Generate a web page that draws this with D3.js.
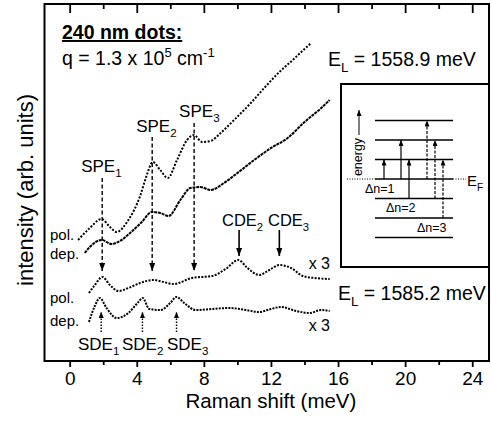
<!DOCTYPE html>
<html>
<head>
<meta charset="utf-8">
<script src="https://cdn.jsdelivr.net/npm/d3@7/dist/d3.min.js"></script>
<style>
    body { margin: 0; background: #fff; }
    svg { font-family: "Liberation Sans", Arial, sans-serif; }
</style>
</head>
<body>
<div id="chart"></div>
<script>
// Spectra: [Raman shift (meV), intensity (arb. units)]
const polHigh = [[0.5, 121], [1.2, 133], [1.9, 142], [2.4, 134], [2.8, 129], [3.5, 141], [4.2, 165],
    [4.6, 186], [4.95, 199], [5.4, 191], [5.85, 183], [6.4, 201], [7.0, 221], [7.4, 226], [7.9, 219],
    [8.4, 220], [9.0, 228], [9.8, 241], [10.8, 258], [11.6, 273], [12.5, 289], [13.3, 301], [14.0, 312],
    [14.4, 318]];
const depHigh = [[0.9, 108], [1.2, 114], [1.9, 121], [2.5, 117], [3.0, 120], [3.6, 128], [4.3, 139],
    [4.9, 149], [5.4, 148], [5.9, 145], [6.6, 161], [7.2, 173], [7.8, 174], [8.4, 171], [9.2, 178],
    [10.0, 188], [11.0, 201], [12.0, 213], [13.0, 223], [14.0, 239], [15.0, 253], [15.5, 261]];
const polLow = [[1.15, 68], [1.5, 76], [1.95, 84], [2.4, 76], [2.9, 70], [3.5, 73], [4.2, 78], [5.0, 81],
    [5.6, 79], [6.2, 77], [7.3, 83], [8.5, 85], [9.3, 92], [10.05, 101], [10.6, 93], [11.3, 86],
    [11.9, 91], [12.5, 96], [13.2, 93], [13.9, 85], [14.6, 83], [15.5, 82]];
const depLow = [[1.15, 39], [1.5, 55], [1.8, 63], [2.2, 53], [2.8, 43], [3.5, 48], [4.1, 59], [4.35, 63],
    [4.75, 52], [5.4, 51], [6.0, 58], [6.35, 64], [6.9, 57], [7.5, 51], [8.5, 52], [9.5, 53], [10.5, 51],
    [11.3, 49], [12.0, 52], [12.6, 54], [13.5, 50], [14.3, 48], [15.0, 51], [15.5, 50]];

// Peak positions (meV)
const spePeaks = [1.94, 4.92, 7.42];
const cdePeaks = [10.1, 12.5];
const sdePeaks = [1.88, 4.34, 6.37];

// Axis ticks
const majorTicks = [0, 4, 8, 12, 16, 20, 24];
const minorTicks = [2, 6, 10, 14, 18, 22];

// Inset: level index of each transition [from, to]
const levels = [-3, -2, -1, 0, 1, 2, 3];
const transitions = [[0, 1], [0, 2], [-1, 1], [0, 3], [-1, 2], [-2, 1]];

const config = {
    width: 491,
    height: 426,
    left: 44.5,
    right: 489,
    top: 4,
    bottom: 361
};

const svg = d3.select('#chart')
    .append('svg')
    .attr('width', config.width)
    .attr('height', config.height);

const xScale = d3.scaleLinear()
    .domain([-1.5, 25])
    .range([config.left, config.right]);

const yScale = d3.scaleLinear()
    .domain([0, 357])
    .range([config.bottom, config.top]);

// arrowheads
const defs = svg.append('defs');
defs.append('marker')
    .attr('id', 'arrow')
    .attr('viewBox', '0 -3 8 6')
    .attr('refX', 8)
    .attr('refY', 0)
    .attr('markerWidth', 8)
    .attr('markerHeight', 6)
    .attr('markerUnits', 'userSpaceOnUse')
    .attr('orient', 'auto')
    .append('path')
    .attr('d', 'M0,-3L8,0L0,3Z')
    .attr('fill', 'black');

defs.append('marker')
    .attr('id', 'arrow-small')
    .attr('viewBox', '0 -2.5 6 5')
    .attr('refX', 6)
    .attr('refY', 0)
    .attr('markerWidth', 6)
    .attr('markerHeight', 5)
    .attr('markerUnits', 'userSpaceOnUse')
    .attr('orient', 'auto')
    .append('path')
    .attr('d', 'M0,-2.5L6,0L0,2.5Z')
    .attr('fill', 'black');

// Bottom axis with labels
const xAxis = svg.append('g')
    .attr('transform', `translate(0, ${config.bottom})`)
    .call(d3.axisBottom(xScale).tickValues(majorTicks).tickSize(6).tickPadding(5));
xAxis.select('.domain').remove();
xAxis.selectAll('text').attr('font-size', 19).attr('font-family', '"Liberation Sans", Arial, sans-serif');

const xMinor = svg.append('g')
    .attr('transform', `translate(0, ${config.bottom})`)
    .call(d3.axisBottom(xScale).tickValues(minorTicks).tickSize(4).tickFormat(''));
xMinor.select('.domain').remove();

// Top ticks, pointing inward
const topMajor = svg.append('g')
    .attr('transform', `translate(0, ${config.top})`)
    .call(d3.axisTop(xScale).tickValues(majorTicks).tickSize(-9).tickFormat(''));
const topMinor = svg.append('g')
    .attr('transform', `translate(0, ${config.top})`)
    .call(d3.axisTop(xScale).tickValues(minorTicks).tickSize(-5).tickFormat(''));
topMajor.select('.domain').remove();
topMinor.select('.domain').remove();
svg.selectAll('g line').attr('stroke-width', 1.8);

// Frame
svg.append('rect')
    .attr('x', config.left)
    .attr('y', config.top)
    .attr('width', config.right - config.left)
    .attr('height', config.bottom - config.top)
    .attr('fill', 'none')
    .attr('stroke', 'black')
    .attr('stroke-width', 2);

// Axis titles
svg.append('text')
    .attr('x', xScale(12))
    .attr('y', 408)
    .attr('text-anchor', 'middle')
    .attr('font-size', 20.5)
    .text('Raman shift (meV)');

svg.append('text')
    .attr('transform', 'translate(33, 190) rotate(-90)')
    .attr('text-anchor', 'middle')
    .attr('font-size', 22)
    .text('intensity (arb. units)');

// Spectra
const line = d3.line()
    .x(d => xScale(d[0]))
    .y(d => yScale(d[1]))
    .curve(d3.curveMonotoneX);

const spectra = [
    { data: polHigh, dash: '2 1.6' },
    { data: depHigh, dash: '3 0.8' },
    { data: polLow, dash: '2 1.4' },
    { data: depLow, dash: '2 1.2' }
];

svg.selectAll('.spectrum')
    .data(spectra)
    .join('path')
    .attr('class', 'spectrum')
    .attr('d', d => line(d.data))
    .attr('fill', 'none')
    .attr('stroke', 'black')
    .attr('stroke-width', 2)
    .attr('stroke-dasharray', d => d.dash);

// Helper for labels with a subscript
function subLabel(x, y, main, sub, size, anchor) {
    const t = svg.append('text')
        .attr('x', x)
        .attr('y', y)
        .attr('font-size', size)
        .attr('text-anchor', anchor || 'start');
    t.append('tspan').text(main);
    t.append('tspan').attr('dy', size * 0.3).attr('font-size', size * 0.68).text(sub);
    return t;
}

// SPE dashed arrows
const speTops = [183, 224, 238];
svg.selectAll('.spe-line')
    .data(spePeaks)
    .join('line')
    .attr('class', 'spe-line')
    .attr('x1', d => xScale(d))
    .attr('x2', d => xScale(d))
    .attr('y1', (d, i) => yScale(speTops[i]))
    .attr('y2', yScale(90))
    .attr('stroke', 'black')
    .attr('stroke-width', 1.4)
    .attr('stroke-dasharray', '4 2.5')
    .attr('marker-end', 'url(#arrow)');

const speLabelY = [172, 132, 117];
const speLabelShift = [21, 16, 15];
spePeaks.forEach((p, i) => subLabel(xScale(p) - speLabelShift[i], speLabelY[i], 'SPE', String(i + 1), 17));

// CDE solid arrows
svg.selectAll('.cde-line')
    .data(cdePeaks)
    .join('line')
    .attr('class', 'cde-line')
    .attr('x1', d => xScale(d))
    .attr('x2', d => xScale(d))
    .attr('y1', yScale(131))
    .attr('y2', yScale(105))
    .attr('stroke', 'black')
    .attr('stroke-width', 1.6)
    .attr('marker-end', 'url(#arrow)');

const cdeLabelX = [222, 268];
cdePeaks.forEach((p, i) => subLabel(cdeLabelX[i], 226, 'CDE', String(i + 2), 16.5));

// SDE dotted arrows
svg.selectAll('.sde-line')
    .data(sdePeaks)
    .join('line')
    .attr('class', 'sde-line')
    .attr('x1', d => xScale(d))
    .attr('x2', d => xScale(d))
    .attr('y1', yScale(29))
    .attr('y2', yScale(49))
    .attr('stroke', 'black')
    .attr('stroke-width', 1.4)
    .attr('stroke-dasharray', '1.5 1.5')
    .attr('marker-end', 'url(#arrow-small)');

const sdeLabelX = [78, 122, 167];
sdePeaks.forEach((p, i) => subLabel(sdeLabelX[i], 350, 'SDE', String(i + 1), 17));

// pol./dep. and scale-factor labels
const curveLabels = [['pol.', 240], ['dep.', 259], ['pol.', 303], ['dep.', 326]];
svg.selectAll('.curve-label')
    .data(curveLabels)
    .join('text')
    .attr('class', 'curve-label')
    .attr('x', 50)
    .attr('y', d => d[1])
    .attr('font-size', 15)
    .text(d => d[0]);

svg.selectAll('.factor')
    .data([269, 331])
    .join('text')
    .attr('class', 'factor')
    .attr('x', 330)
    .attr('y', d => d)
    .attr('text-anchor', 'end')
    .attr('font-size', 16)
    .text('x 3');

// Title block
svg.append('text')
    .attr('x', 62)
    .attr('y', 39)
    .attr('font-size', 19.5)
    .attr('font-weight', 'bold')
    .attr('text-decoration', 'underline')
    .text('240 nm dots:');

const q = svg.append('text')
    .attr('x', 62)
    .attr('y', 65)
    .attr('font-size', 19.5);
q.append('tspan').text('q = 1.3 x 10');
q.append('tspan').attr('dy', -8).attr('font-size', 13).text('5');
q.append('tspan').attr('dy', 8).text(' cm');
q.append('tspan').attr('dy', -8).attr('font-size', 13).text('-1');

subLabel(328, 66, 'E', 'L', 19.5).append('tspan').attr('dy', -19.5 * 0.3).text(' = 1558.9 meV');
subLabel(338, 300, 'E', 'L', 19.5).append('tspan').attr('dy', -19.5 * 0.3).text(' = 1585.2 meV');

// Inset: transitions between quantized levels
const inset = svg.append('g');
inset.append('rect')
    .attr('x', 341)
    .attr('y', 84)
    .attr('width', 148)
    .attr('height', 183)
    .attr('fill', 'white')
    .attr('stroke', 'black')
    .attr('stroke-width', 2);

const levelY = d3.scaleLinear().domain([0, 3]).range([179, 120.5]);

inset.selectAll('.level')
    .data(levels)
    .join('line')
    .attr('class', 'level')
    .attr('x1', 375)
    .attr('x2', 453)
    .attr('y1', d => levelY(d))
    .attr('y2', d => levelY(d))
    .attr('stroke', 'black')
    .attr('stroke-width', 1.3);

// Fermi level extension
inset.selectAll('.fermi')
    .data([[347, 375], [453, 466]])
    .join('line')
    .attr('class', 'fermi')
    .attr('x1', d => d[0])
    .attr('x2', d => d[1])
    .attr('y1', levelY(0))
    .attr('y2', levelY(0))
    .attr('stroke', 'black')
    .attr('stroke-width', 1)
    .attr('stroke-dasharray', '1 1.5');

subLabel(467, 186, 'E', 'F', 15);

const transX = [384, 401, 409, 427, 435, 443];
inset.selectAll('.transition')
    .data(transitions)
    .join('line')
    .attr('class', 'transition')
    .attr('x1', (d, i) => transX[i])
    .attr('x2', (d, i) => transX[i])
    .attr('y1', d => levelY(d[0]))
    .attr('y2', d => levelY(d[1]))
    .attr('stroke', 'black')
    .attr('stroke-width', 1.2)
    .attr('stroke-dasharray', d => (d[1] - d[0] === 3 ? '3 1.5' : null))
    .attr('marker-end', 'url(#arrow-small)');

const deltaLabels = [['\u0394n=1', 365, 193], ['\u0394n=2', 386, 212], ['\u0394n=3', 417, 232]];
inset.selectAll('.delta')
    .data(deltaLabels)
    .join('text')
    .attr('class', 'delta')
    .attr('x', d => d[1])
    .attr('y', d => d[2])
    .attr('font-size', 12.5)
    .text(d => d[0]);

// energy axis arrow
inset.append('line')
    .attr('x1', 359)
    .attr('x2', 359)
    .attr('y1', 135)
    .attr('y2', 110)
    .attr('stroke', 'black')
    .attr('stroke-width', 1)
    .attr('marker-end', 'url(#arrow-small)');

inset.append('text')
    .attr('transform', 'translate(362, 157) rotate(-90)')
    .attr('text-anchor', 'middle')
    .attr('font-size', 12.5)
    .text('energy');
</script>
</body>
</html>
